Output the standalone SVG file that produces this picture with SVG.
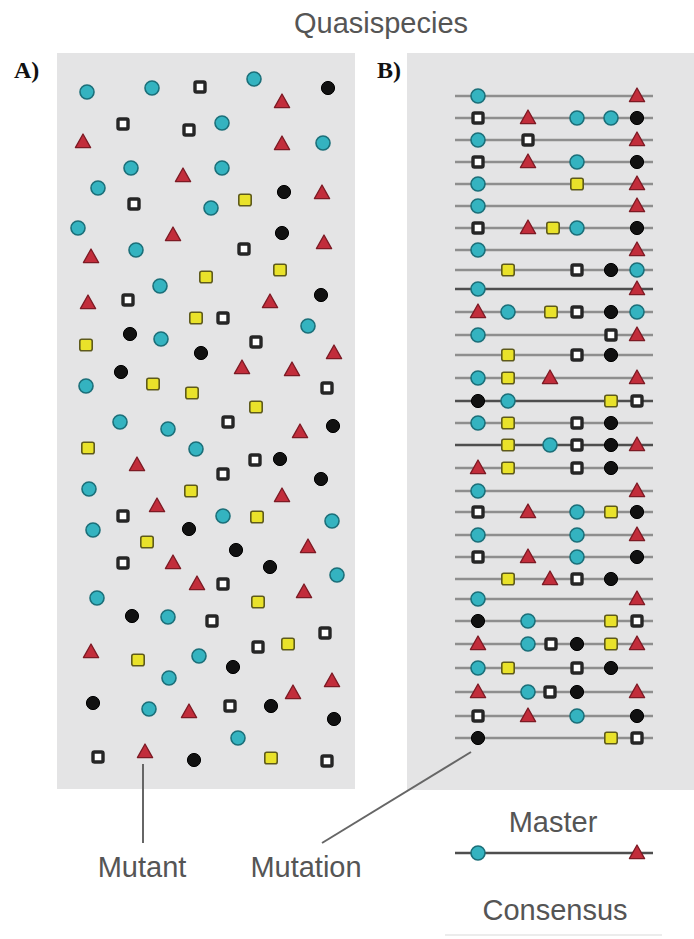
<svg xmlns="http://www.w3.org/2000/svg" xmlns:xlink="http://www.w3.org/1999/xlink" width="694" height="939" viewBox="0 0 694 939">
<style>
.panel{fill:#e4e4e5}
.lbl{font-family:"Liberation Sans",Arial,sans-serif;font-size:29px;fill:#555;text-anchor:middle}
.ab{font-family:"Liberation Serif","Times New Roman",serif;font-size:24px;font-weight:bold;fill:#111}
.seq{stroke:#8e8e8e;stroke-width:2.6}
.seqd{stroke:#4e4e4e;stroke-width:2.6}
.conn{stroke:#666;stroke-width:2;fill:none}
</style>
<defs>
<g id="teal"><circle r="7" fill="#34b3c0" stroke="#1b6f79" stroke-width="1.6"/></g>
<g id="blk"><circle r="6.6" fill="#111" stroke="#000" stroke-width="1"/></g>
<g id="sq"><rect x="-5" y="-5" width="10" height="10" rx="1.5" fill="#fff" stroke="#262626" stroke-width="3.4"/></g>
<g id="yel"><rect x="-6.2" y="-5.8" width="12.4" height="11.6" rx="2" fill="#e9e22a" stroke="#5e5a1c" stroke-width="1.6"/></g>
<g id="tri"><polygon points="0,-8 7.6,5.6 -7.6,5.6" fill="#c22d3b" stroke="#7c1a24" stroke-width="1.3" stroke-linejoin="round"/></g>
</defs>
<rect width="694" height="939" fill="#fff"/>

<text id="title" class="lbl" x="381" y="33">Quasispecies</text>

<g id="panelA">
<rect class="panel" x="57" y="53" width="298" height="736"/>
<text class="ab" x="14" y="78">A)</text>
<g id="a-teal">
<use href="#teal" x="87" y="92"/><use href="#teal" x="152" y="88"/><use href="#teal" x="254" y="79"/><use href="#teal" x="222" y="123"/><use href="#teal" x="323" y="143"/><use href="#teal" x="131" y="168"/><use href="#teal" x="222" y="168"/><use href="#teal" x="98" y="188"/><use href="#teal" x="211" y="208"/><use href="#teal" x="78" y="228"/><use href="#teal" x="136" y="250"/><use href="#teal" x="160" y="286"/><use href="#teal" x="308" y="326"/><use href="#teal" x="161" y="339"/><use href="#teal" x="86" y="386"/><use href="#teal" x="120" y="422"/><use href="#teal" x="168" y="429"/><use href="#teal" x="196" y="449"/><use href="#teal" x="89" y="489"/><use href="#teal" x="223" y="516"/><use href="#teal" x="332" y="521"/><use href="#teal" x="93" y="530"/><use href="#teal" x="337" y="575"/><use href="#teal" x="97" y="598"/><use href="#teal" x="168" y="617"/><use href="#teal" x="199" y="656"/><use href="#teal" x="169" y="678"/><use href="#teal" x="149" y="709"/><use href="#teal" x="238" y="738"/>
</g>
<g id="a-blk">
<use href="#blk" x="328" y="88"/><use href="#blk" x="284" y="192"/><use href="#blk" x="282" y="233"/><use href="#blk" x="321" y="295"/><use href="#blk" x="130" y="334"/><use href="#blk" x="201" y="353"/><use href="#blk" x="121" y="372"/><use href="#blk" x="333" y="426"/><use href="#blk" x="280" y="459"/><use href="#blk" x="321" y="479"/><use href="#blk" x="189" y="529"/><use href="#blk" x="236" y="550"/><use href="#blk" x="270" y="567"/><use href="#blk" x="132" y="616"/><use href="#blk" x="233" y="667"/><use href="#blk" x="93" y="703"/><use href="#blk" x="271" y="706"/><use href="#blk" x="334" y="719"/><use href="#blk" x="194" y="760"/>
</g>
<g id="a-sq">
<use href="#sq" x="200" y="87"/><use href="#sq" x="123" y="124"/><use href="#sq" x="189" y="130"/><use href="#sq" x="134" y="204"/><use href="#sq" x="244" y="249"/><use href="#sq" x="128" y="300"/><use href="#sq" x="223" y="318"/><use href="#sq" x="256" y="342"/><use href="#sq" x="327" y="388"/><use href="#sq" x="228" y="422"/><use href="#sq" x="255" y="460"/><use href="#sq" x="223" y="474"/><use href="#sq" x="123" y="516"/><use href="#sq" x="123" y="563"/><use href="#sq" x="223" y="584"/><use href="#sq" x="212" y="621"/><use href="#sq" x="325" y="633"/><use href="#sq" x="258" y="647"/><use href="#sq" x="230" y="706"/><use href="#sq" x="98" y="757"/><use href="#sq" x="327" y="761"/>
</g>
<g id="a-yel">
<use href="#yel" x="245" y="200"/><use href="#yel" x="206" y="277"/><use href="#yel" x="280" y="270"/><use href="#yel" x="196" y="318"/><use href="#yel" x="86" y="345"/><use href="#yel" x="153" y="384"/><use href="#yel" x="192" y="393"/><use href="#yel" x="256" y="407"/><use href="#yel" x="88" y="448"/><use href="#yel" x="191" y="491"/><use href="#yel" x="257" y="517"/><use href="#yel" x="147" y="542"/><use href="#yel" x="258" y="602"/><use href="#yel" x="138" y="660"/><use href="#yel" x="288" y="644"/><use href="#yel" x="271" y="758"/>
</g>
<g id="a-tri">
<use href="#tri" x="282" y="102"/><use href="#tri" x="83" y="142"/><use href="#tri" x="282" y="144"/><use href="#tri" x="183" y="176"/><use href="#tri" x="322" y="193"/><use href="#tri" x="173" y="235"/><use href="#tri" x="324" y="243"/><use href="#tri" x="91" y="257"/><use href="#tri" x="88" y="303"/><use href="#tri" x="270" y="302"/><use href="#tri" x="334" y="353"/><use href="#tri" x="242" y="368"/><use href="#tri" x="292" y="370"/><use href="#tri" x="300" y="432"/><use href="#tri" x="137" y="465"/><use href="#tri" x="282" y="496"/><use href="#tri" x="157" y="506"/><use href="#tri" x="308" y="547"/><use href="#tri" x="173" y="563"/><use href="#tri" x="197" y="584"/><use href="#tri" x="304" y="592"/><use href="#tri" x="91" y="652"/><use href="#tri" x="332" y="681"/><use href="#tri" x="293" y="693"/><use href="#tri" x="189" y="712"/><use href="#tri" x="145" y="752"/>
</g>
</g>

<g id="panelB">
<rect class="panel" x="407" y="53" width="287" height="737"/>
<text class="ab" x="377" y="78">B)</text>
<g id="r1"><line class="seq" x1="455" y1="96" x2="653" y2="96"/><use href="#teal" x="478" y="96"/><use href="#tri" x="637" y="96"/></g>
<g id="r2"><line class="seq" x1="455" y1="118" x2="653" y2="118"/><use href="#sq" x="478" y="118"/><use href="#tri" x="528" y="118"/><use href="#teal" x="577" y="118"/><use href="#teal" x="611" y="118"/><use href="#blk" x="637" y="118"/></g>
<g id="r3"><line class="seq" x1="455" y1="140" x2="653" y2="140"/><use href="#teal" x="478" y="140"/><use href="#sq" x="528" y="140"/><use href="#tri" x="637" y="140"/></g>
<g id="r4"><line class="seq" x1="455" y1="162" x2="653" y2="162"/><use href="#sq" x="478" y="162"/><use href="#tri" x="528" y="162"/><use href="#teal" x="577" y="162"/><use href="#blk" x="637" y="162"/></g>
<g id="r5"><line class="seq" x1="455" y1="184" x2="653" y2="184"/><use href="#teal" x="478" y="184"/><use href="#yel" x="577" y="184"/><use href="#tri" x="637" y="184"/></g>
<g id="r6"><line class="seq" x1="455" y1="206" x2="653" y2="206"/><use href="#teal" x="478" y="206"/><use href="#tri" x="637" y="206"/></g>
<g id="r7"><line class="seq" x1="455" y1="228" x2="653" y2="228"/><use href="#sq" x="478" y="228"/><use href="#tri" x="528" y="228"/><use href="#yel" x="553" y="228"/><use href="#teal" x="577" y="228"/><use href="#blk" x="637" y="228"/></g>
<g id="r8"><line class="seq" x1="455" y1="250" x2="653" y2="250"/><use href="#teal" x="478" y="250"/><use href="#tri" x="637" y="250"/></g>
<g id="r9"><line class="seq" x1="455" y1="270" x2="653" y2="270"/><use href="#yel" x="508" y="270"/><use href="#sq" x="577" y="270"/><use href="#blk" x="611" y="270"/><use href="#teal" x="637" y="270"/></g>
<g id="r10"><line class="seqd" x1="455" y1="289" x2="653" y2="289"/><use href="#teal" x="478" y="289"/><use href="#tri" x="637" y="289"/></g>
<g id="r11"><line class="seq" x1="455" y1="312" x2="653" y2="312"/><use href="#tri" x="478" y="312"/><use href="#teal" x="508" y="312"/><use href="#yel" x="551" y="312"/><use href="#sq" x="577" y="312"/><use href="#blk" x="611" y="312"/><use href="#teal" x="637" y="312"/></g>
<g id="r12"><line class="seq" x1="455" y1="335" x2="653" y2="335"/><use href="#teal" x="478" y="335"/><use href="#sq" x="611" y="335"/><use href="#tri" x="637" y="335"/></g>
<g id="r13"><line class="seq" x1="455" y1="355" x2="653" y2="355"/><use href="#yel" x="508" y="355"/><use href="#sq" x="577" y="355"/><use href="#blk" x="611" y="355"/></g>
<g id="r14"><line class="seq" x1="455" y1="378" x2="653" y2="378"/><use href="#teal" x="478" y="378"/><use href="#yel" x="508" y="378"/><use href="#tri" x="550" y="378"/><use href="#tri" x="637" y="378"/></g>
<g id="r15"><line class="seqd" x1="455" y1="401" x2="653" y2="401"/><use href="#blk" x="478" y="401"/><use href="#teal" x="508" y="401"/><use href="#yel" x="611" y="401"/><use href="#sq" x="637" y="401"/></g>
<g id="r16"><line class="seq" x1="455" y1="423" x2="653" y2="423"/><use href="#teal" x="478" y="423"/><use href="#yel" x="508" y="423"/><use href="#sq" x="577" y="423"/><use href="#blk" x="611" y="423"/></g>
<g id="r17"><line class="seqd" x1="455" y1="445" x2="653" y2="445"/><use href="#yel" x="508" y="445"/><use href="#teal" x="550" y="445"/><use href="#sq" x="577" y="445"/><use href="#blk" x="611" y="445"/><use href="#tri" x="637" y="445"/></g>
<g id="r18"><line class="seq" x1="455" y1="468" x2="653" y2="468"/><use href="#tri" x="478" y="468"/><use href="#yel" x="508" y="468"/><use href="#sq" x="577" y="468"/><use href="#blk" x="611" y="468"/></g>
<g id="r19"><line class="seq" x1="455" y1="491" x2="653" y2="491"/><use href="#teal" x="478" y="491"/><use href="#tri" x="637" y="491"/></g>
<g id="r20"><line class="seq" x1="455" y1="512" x2="653" y2="512"/><use href="#sq" x="478" y="512"/><use href="#tri" x="528" y="512"/><use href="#teal" x="577" y="512"/><use href="#yel" x="611" y="512"/><use href="#blk" x="637" y="512"/></g>
<g id="r21"><line class="seq" x1="455" y1="535" x2="653" y2="535"/><use href="#teal" x="478" y="535"/><use href="#teal" x="577" y="535"/><use href="#tri" x="637" y="535"/></g>
<g id="r22"><line class="seq" x1="455" y1="557" x2="653" y2="557"/><use href="#sq" x="478" y="557"/><use href="#tri" x="528" y="557"/><use href="#teal" x="577" y="557"/><use href="#blk" x="637" y="557"/></g>
<g id="r23"><line class="seq" x1="455" y1="579" x2="653" y2="579"/><use href="#yel" x="508" y="579"/><use href="#tri" x="550" y="579"/><use href="#sq" x="577" y="579"/><use href="#blk" x="611" y="579"/></g>
<g id="r24"><line class="seq" x1="455" y1="599" x2="653" y2="599"/><use href="#teal" x="478" y="599"/><use href="#tri" x="637" y="599"/></g>
<g id="r25"><line class="seq" x1="455" y1="621" x2="653" y2="621"/><use href="#blk" x="478" y="621"/><use href="#teal" x="528" y="621"/><use href="#yel" x="611" y="621"/><use href="#sq" x="637" y="621"/></g>
<g id="r26"><line class="seq" x1="455" y1="644" x2="653" y2="644"/><use href="#tri" x="478" y="644"/><use href="#teal" x="528" y="644"/><use href="#sq" x="551" y="644"/><use href="#blk" x="577" y="644"/><use href="#yel" x="611" y="644"/><use href="#tri" x="637" y="644"/></g>
<g id="r27"><line class="seq" x1="455" y1="668" x2="653" y2="668"/><use href="#teal" x="478" y="668"/><use href="#yel" x="508" y="668"/><use href="#sq" x="577" y="668"/><use href="#blk" x="611" y="668"/></g>
<g id="r28"><line class="seq" x1="455" y1="692" x2="653" y2="692"/><use href="#tri" x="478" y="692"/><use href="#teal" x="528" y="692"/><use href="#sq" x="550" y="692"/><use href="#blk" x="577" y="692"/><use href="#tri" x="637" y="692"/></g>
<g id="r29"><line class="seq" x1="455" y1="716" x2="653" y2="716"/><use href="#sq" x="478" y="716"/><use href="#tri" x="528" y="716"/><use href="#teal" x="577" y="716"/><use href="#blk" x="637" y="716"/></g>
<g id="r30"><line class="seq" x1="455" y1="738" x2="653" y2="738"/><use href="#blk" x="478" y="738"/><use href="#yel" x="611" y="738"/><use href="#sq" x="637" y="738"/></g>
</g>

<g id="connectors">
<line class="conn" x1="143" y1="764" x2="143" y2="843"/>
<line class="conn" x1="322" y1="843" x2="471" y2="752"/>
</g>

<g id="labels">
<text class="lbl" x="142" y="877">Mutant</text>
<text class="lbl" x="306" y="877">Mutation</text>
</g>

<g id="legend">
<text class="lbl" x="553" y="832">Master</text>
<line class="seqd" x1="455" y1="853" x2="653" y2="853"/>
<use href="#teal" x="478" y="853"/>
<use href="#tri" x="637" y="853"/>
<text class="lbl" x="555" y="920">Consensus</text>
<line x1="445" y1="935" x2="662" y2="935" stroke="#ececec" stroke-width="2"/>
</g>
</svg>
